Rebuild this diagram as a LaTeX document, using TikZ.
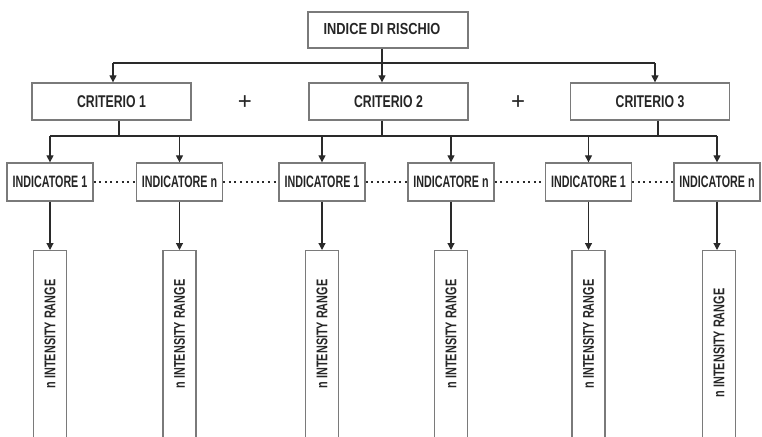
\documentclass[tikz,border=0pt]{standalone}
\usepackage{fontspec}
\newfontfamily\fa[FakeStretch=0.80]{Liberation Sans Bold}
\newfontfamily\fd[FakeStretch=0.72]{Liberation Sans Bold}
\newfontfamily\fe[FakeStretch=0.65]{Liberation Sans Bold}
\newfontfamily\fb[FakeStretch=0.70]{Liberation Sans Bold}
\newfontfamily\fc{Liberation Sans}
\usetikzlibrary{arrows.meta}
\definecolor{boxgray}{HTML}{7A7A7A}
\definecolor{linec}{HTML}{2A2A2A}
\definecolor{textc}{HTML}{262626}
\begin{document}
\begin{tikzpicture}[x=1pt,y=-1pt,
  box/.style={draw=boxgray, line width=1.3pt, rectangle, inner sep=0pt, text=textc},
  topbox/.style={box, minimum width=160pt, minimum height=36pt, font=\fa\fontsize{16}{18}\selectfont},
  critbox/.style={box, minimum width=159pt, minimum height=37pt, font=\fd\fontsize{17}{18}\selectfont},
  indbox/.style={box, minimum width=86pt, minimum height=38pt, font=\fe\fontsize{16.5}{18}\selectfont},
  rangebox/.style={box, rotate=90, minimum height=33pt, anchor=east, font=\fb\fontsize{15.5}{17}\selectfont},
  plus/.style={text=textc, font=\fc\fontsize{24}{24}\selectfont, inner sep=0pt},
  conn/.style={draw=linec, line width=1.2pt},
  arr/.style={conn, -{Triangle[length=7pt,width=7pt]}},
  dots/.style={draw=linec, line width=1.6pt, dash pattern=on 2pt off 3.6pt}
]
\useasboundingbox (0,0) rectangle (762,436);
\clip (0,0) rectangle (762,436);

% top
\node[topbox] (top) at (388,30) {\raisebox{2pt}{INDICE DI RISCHIO}\hspace*{12pt}};

% criteria
\node[critbox] (c1) at (111.5,101.5) {CRITERIO 1};
\node[critbox] (c2) at (388.5,101.5) {CRITERIO 2};
\node[critbox] (c3) at (650,101.5) {CRITERIO 3};
\node[plus] (p1) at (245,103) {+};
\node[plus] (p2) at (518,103) {+};

% indicators
\node[indbox] (i1) at (50,182) {INDICATORE 1};
\node[indbox] (i2) at (179.5,182) {INDICATORE n};
\node[indbox] (i3) at (322,182) {INDICATORE 1};
\node[indbox] (i4) at (451,182) {INDICATORE n};
\node[indbox] (i5) at (588.5,182) {INDICATORE 1};
\node[indbox] (i6) at (717,182) {INDICATORE n};

% ranges
\foreach \k/\x/\g in {1/50/29, 2/179.5/29, 3/322/29, 4/451/29, 5/588.5/29, 6/719/38}{
  \node[rangebox] (r\k) at (\x,250) {\makebox[215pt][r]{n INTENSITY RANGE\hspace*{\g pt}}};
}

% level 1 connectors
\coordinate (ja) at (382,63);
\coordinate (j1) at (113,63);
\coordinate (j3) at (655,63);
\draw[conn] (top.south -| ja) -- (ja);
\draw[conn] (j1) -- (j3);
\draw[arr] (j1) -- (j1 |- c1.north);
\draw[arr] (ja) -- (ja |- c2.north);
\draw[arr] (j3) -- (j3 |- c3.north);

% level 2 connectors
\coordinate (k1) at (119,136);
\coordinate (k2) at (382,136);
\coordinate (k3) at (658,136);
\draw[conn] (c1.south -| k1) -- (k1);
\draw[conn] (c2.south -| k2) -- (k2);
\draw[conn] (c3.south -| k3) -- (k3);
\draw[conn] (i1.north |- k1) -- (i6.north |- k1);
\foreach \k in {1,...,6}{
  \draw[arr] (i\k.north |- k1) -- (i\k.north);
}

% dotted links
\draw[dots] (i1.east) -- (i2.west);
\draw[dots] (i2.east) -- (i3.west);
\draw[dots] (i3.east) -- (i4.west);
\draw[dots] (i4.east) -- (i5.west);
\draw[dots] (i5.east) -- (i6.west);

% level 3 connectors
\foreach \k in {1,...,6}{
  \draw[arr] (i\k.south) -- (i\k.south |- r\k.east);
}
\end{tikzpicture}
\end{document}
